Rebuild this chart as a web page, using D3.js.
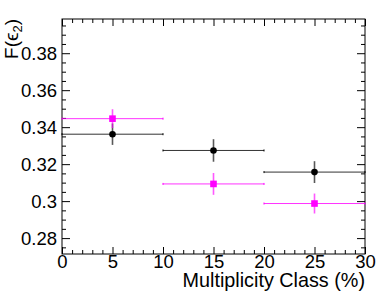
<!DOCTYPE html>
<html>
<head>
<meta charset="utf-8">
<script src="https://cdn.jsdelivr.net/npm/d3@7"></script>
<style>
  html, body { margin: 0; padding: 0; background: #fff; }
  svg text { font-family: "Liberation Sans", Arial, Helvetica, sans-serif; }
</style>
</head>
<body>
<div id="chart"></div>
<script>
// 数据
const xCenters = [5, 15, 25];
const xHalfWidth = [5, 5, 5];
const blackValues = [0.3362, 0.3274, 0.3157];
const blackErrors = [0.0058, 0.0061, 0.0059];
const magentaValues = [0.3446, 0.3093, 0.2987];
const magentaErrors = [0.0051, 0.0059, 0.0054];
const xTickValues = [0, 5, 10, 15, 20, 25, 30];
const yTickValues = [0.28, 0.3, 0.32, 0.34, 0.36, 0.38];
const yTickLabels = ['0.28', '0.3', '0.32', '0.34', '0.36', '0.38'];

const W = 389, H = 300;
const margin = { top: 19, right: 24, bottom: 46, left: 62 };
const width = W - margin.left - margin.right;
const height = H - margin.top - margin.bottom;

const svg = d3.select('#chart').append('svg')
    .attr('width', W)
    .attr('height', H);

const g = svg.append('g')
    .attr('transform', `translate(${margin.left},${margin.top})`);

const x = d3.scaleLinear().domain([0, 30]).range([0, width]);
const y = d3.scaleLinear().domain([0.2714, 0.3985]).range([height, 0]);

const xMinor = d3.range(0, 31, 1).filter(v => v % 5 !== 0);
const yMinor = d3.range(0.275, 0.3986, 0.005).filter(v => Math.abs(v * 50 - Math.round(v * 50)) > 1e-6);

function styleAxis(sel) {
    sel.select('.domain').remove();
    sel.selectAll('line').attr('stroke', '#000');
    sel.selectAll('text').style('font-size', '18.5px').attr('fill', '#000');
}

// 主刻度（朝内）
g.append('g').attr('transform', `translate(0,${height})`)
    .call(d3.axisBottom(x).tickValues(xTickValues).tickSize(-7).tickPadding(1).tickFormat(d3.format('d')))
    .call(styleAxis);
g.append('g').attr('transform', `translate(0,${height})`)
    .call(d3.axisBottom(x).tickValues(xMinor).tickSize(-4).tickFormat(''))
    .call(styleAxis);
g.append('g')
    .call(d3.axisTop(x).tickValues(xTickValues).tickSize(-7).tickFormat(''))
    .call(styleAxis);
g.append('g')
    .call(d3.axisTop(x).tickValues(xMinor).tickSize(-4).tickFormat(''))
    .call(styleAxis);

g.append('g')
    .call(d3.axisLeft(y).tickValues(yTickValues).tickSize(-8).tickPadding(5)
        .tickFormat((d, i) => yTickLabels[i]))
    .call(styleAxis);
g.append('g')
    .call(d3.axisLeft(y).tickValues(yMinor).tickSize(-4).tickFormat(''))
    .call(styleAxis);
g.append('g').attr('transform', `translate(${width},0)`)
    .call(d3.axisRight(y).tickValues(yTickValues).tickSize(-8).tickFormat(''))
    .call(styleAxis);
g.append('g').attr('transform', `translate(${width},0)`)
    .call(d3.axisRight(y).tickValues(yMinor).tickSize(-4).tickFormat(''))
    .call(styleAxis);

// 边框
g.append('rect')
    .attr('x', 0).attr('y', 0)
    .attr('width', width).attr('height', height)
    .attr('fill', 'none')
    .attr('stroke', '#000')
    .attr('stroke-width', 1);

// 画一组数据点
function drawSeries(values, errors, color, shape) {
    const grp = g.append('g');
    values.forEach((v, i) => {
        const cx = x(xCenters[i]);
        const cy = y(v);
        // 横向误差
        grp.append('line')
            .attr('x1', x(xCenters[i] - xHalfWidth[i])).attr('x2', x(xCenters[i] + xHalfWidth[i]))
            .attr('y1', cy).attr('y2', cy)
            .attr('stroke', color).attr('stroke-width', 1).attr('opacity', 0.8);
        [xCenters[i] - xHalfWidth[i], xCenters[i] + xHalfWidth[i]].forEach(xe => {
            grp.append('line')
                .attr('x1', x(xe)).attr('x2', x(xe))
                .attr('y1', cy - 1).attr('y2', cy + 1)
                .attr('stroke', color).attr('stroke-width', 1);
        });
        // 纵向误差
        grp.append('line')
            .attr('x1', cx).attr('x2', cx)
            .attr('y1', y(v - errors[i])).attr('y2', y(v + errors[i]))
            .attr('stroke', color).attr('stroke-width', 1.6).attr('opacity', 0.65);
        if (shape === 'circle') {
            grp.append('circle')
                .attr('cx', cx).attr('cy', cy).attr('r', 3.3)
                .attr('fill', color);
        } else {
            grp.append('rect')
                .attr('x', cx - 3.3).attr('y', cy - 3.3)
                .attr('width', 6.6).attr('height', 6.6)
                .attr('fill', color);
        }
    });
}

drawSeries(blackValues, blackErrors, '#000000', 'circle');
drawSeries(magentaValues, magentaErrors, '#ff00ff', 'square');

// 坐标轴标题
svg.append('text')
    .attr('x', margin.left + width)
    .attr('y', 287)
    .attr('text-anchor', 'end')
    .style('font-size', '19.8px')
    .text('Multiplicity Class (%)');

const yTitle = svg.append('text')
    .attr('transform', `translate(18,${margin.top}) rotate(-90)`)
    .attr('text-anchor', 'end')
    .style('font-size', '19px');
yTitle.append('tspan').text('F(ϵ');
yTitle.append('tspan').attr('baseline-shift', '-30%').style('font-size', '13px').text('2');
yTitle.append('tspan').text(')');
</script>
</body>
</html>
